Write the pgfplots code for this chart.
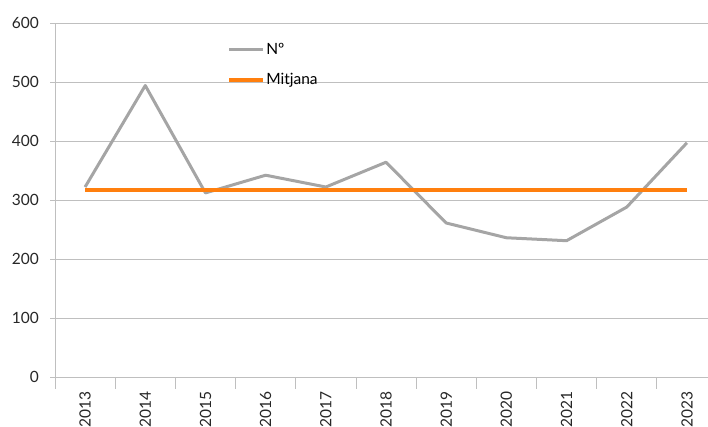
\documentclass[border=0pt]{standalone}
\usepackage{pgfplots}
\pgfplotsset{compat=1.18}
\usepackage{fontspec}
\setmainfont{Lato}
\definecolor{linegray}{HTML}{A5A5A5}
\definecolor{meanorange}{HTML}{FF7F0E}
\definecolor{gridgray}{HTML}{BFBFBF}
\begin{document}
\fontsize{15}{18}\selectfont
\begin{tikzpicture}
\begin{axis}[
  name=ax,
  scale only axis,
  width=653pt, height=354pt,
  xmin=-0.5, xmax=10.35,
  ymin=0, ymax=600,
  ytick={0,100,...,600},
  xtick={0,...,10},
  xticklabels={2013,2014,2015,2016,2017,2018,2019,2020,2021,2022,2023},
  minor xtick={-0.5,0.5,...,10.5},
  axis x line*=bottom,
  axis y line*=left,
  axis line style={gridgray, line width=0.8pt},
  ymajorgrids,
  grid style={gridgray, line width=0.8pt},
  major x tick style={draw=none},
  minor x tick style={gridgray, line width=0.8pt},
  minor tick length=12pt,
  major y tick style={gridgray, line width=0.8pt},
  major tick length=5pt,
  tick align=outside,
  xtick pos=bottom, ytick pos=left,
  /pgf/number format/assume math mode=true,
  ticklabel style={font=\fontsize{15.5}{18}\selectfont, text=black!85},
  xticklabel style={rotate=90, anchor=east, yshift=0pt, xshift=-4pt},
  yticklabel style={xshift=-6pt},
  legend style={draw=none, fill=none, at={(axis cs:2.36,568)}, anchor=north west,
    font=\fontsize{15.5}{18}\selectfont, row sep=15pt, inner sep=0pt,
    nodes={inner sep=1pt},
    /tikz/every even column/.append style={column sep=0pt}},
  legend cell align=left,
  legend image code/.code={\draw[#1] (0pt,0pt) -- (34pt,0pt);},
  clip=false,
]
\addplot[linegray, line width=3pt, line join=round] coordinates {
  (0,322) (1,494) (2,312) (3,342) (4,322) (5,364) (6,261) (7,236) (8,231) (9,288) (10,397)};
\addlegendentry{Nº}
\addplot[meanorange, line width=4pt] coordinates {(0,317) (10,317)};
\addlegendentry{Mitjana}
\end{axis}
\pgfresetboundingbox
\path ([shift={(-55pt,-50pt)}]ax.south west) rectangle ([shift={(0pt,23pt)}]ax.north east);
\end{tikzpicture}
\end{document}
